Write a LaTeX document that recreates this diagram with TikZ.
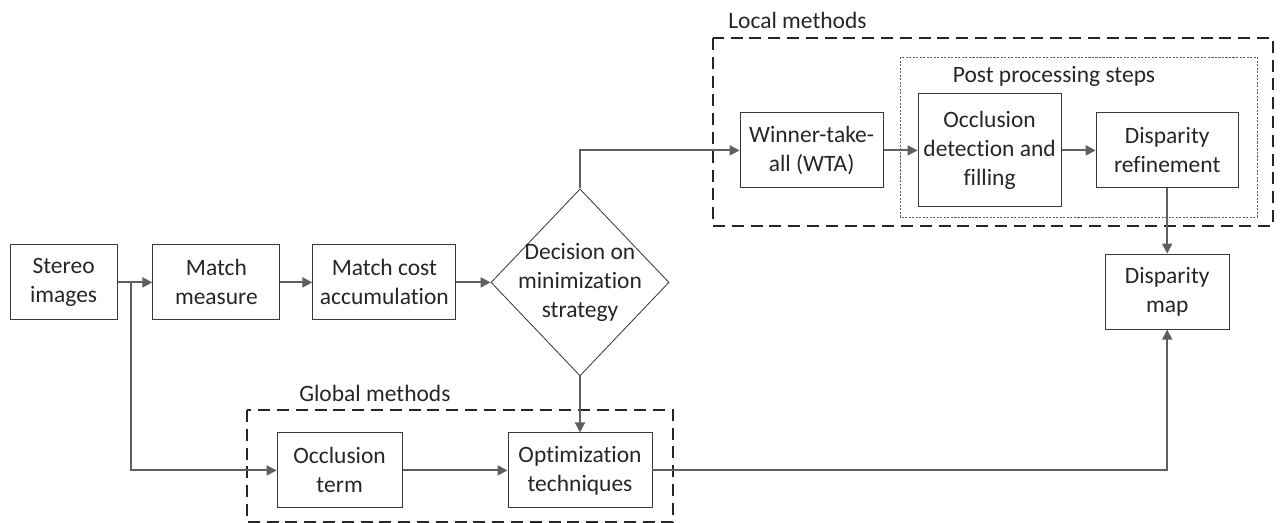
\documentclass[tikz,border=0pt]{standalone}
\usepackage{fontspec}
\setmainfont{Carlito}[Ligatures=NoCommon]
\usepackage{xcolor}
\usetikzlibrary{arrows.meta, shapes.geometric}

\definecolor{linegray}{HTML}{5F5F5F}
\definecolor{boxgray}{HTML}{3A3A3A}
\definecolor{framegray}{HTML}{262626}

\begin{document}
\begin{tikzpicture}[
    % Common styles for blocks, connectors and method frames.
    every node/.style={font=\fontsize{16.7}{20.6}\selectfont, align=center, text=framegray},
    flow/.style={draw=linegray, line width=1.3pt, -{Triangle[length=0.25cm, width=0.25cm]}},
    block/.style={rectangle, draw=boxgray, line width=0.7pt, inner sep=0pt,
                  minimum width=#1, minimum height=1.875cm},
    decision/.style={diamond, draw=boxgray, line width=0.6pt, inner sep=-0.5cm,
                     minimum width=4.45cm, minimum height=4.675cm},
    method frame/.style={draw=framegray, line width=1.4pt, dash pattern=on 0.3cm off 0.17cm},
    step frame/.style={draw=linegray, line width=0.5pt, dash pattern=on 1.5pt off 1pt},
    frame label/.style={anchor=west, inner sep=0pt}
]
\useasboundingbox (0,0) rectangle (32,-13.075);

% Main chain, left to right.
\node[block=2.675cm] (stereo)   at (1.59, -7.06) {Stereo\\images};
\node[block=3.175cm] (mmeasure) at (5.41, -7.06) {Match\\measure};
\node[block=3.575cm] (mcost)    at (9.61, -7.06) {Match cost\\accumulation};
\node[decision]      (decide)   at (14.5, -7.06) {Decision on\\minimization\\strategy};

% Local methods and post processing.
\draw[method frame] (17.825,-0.95) rectangle (31.825,-5.65);
\draw[step frame]   (22.5,-1.425) rectangle (31.425,-5.425);
\node[frame label] (locallbl) at (18.2, -0.5) {Local methods};
\node (postlbl) at (26.35, -1.9) {Post processing steps};

\node[block=3.575cm] (wta)     at (20.29, -3.76) {Winner-take-\\all (WTA)};
\node[block=3.575cm, minimum height=2.825cm] (occfill) at (24.74, -3.76) {Occlusion\\detection and\\filling};
\node[block=3.55cm]  (refine)  at (29.18, -3.76) {Disparity\\refinement};
\node[block=3.1cm]   (dmap)    at (29.18, -7.29) {Disparity\\map};

% Global methods.
\draw[method frame] (6.175,-10.25) rectangle (16.825,-13.05);
\node[frame label] (globallbl) at (7.475, -9.83) {Global methods};

\node[block=3.125cm] (occterm) at (8.49, -11.76) {Occlusion\\term};
\node[block=3.6cm]   (optim)   at (14.5, -11.76) {Optimization\\techniques};

\coordinate (split) at (3.275, -7.06);

% Connectors.
\draw[flow] (stereo) -- (mmeasure);
\draw[flow] (mmeasure) -- (mcost);
\draw[flow] (mcost) -- (decide);
\draw[flow] (split) |- (occterm);
\draw[flow] (occterm) -- (optim);
\draw[flow] (decide) -- (optim);
\draw[flow] (decide) |- (wta);
\draw[flow] (wta) -- (occfill);
\draw[flow] (occfill) -- (refine);
\draw[flow] (refine) -- (dmap);
\draw[flow] (optim) -| (dmap);
\end{tikzpicture}
\end{document}
